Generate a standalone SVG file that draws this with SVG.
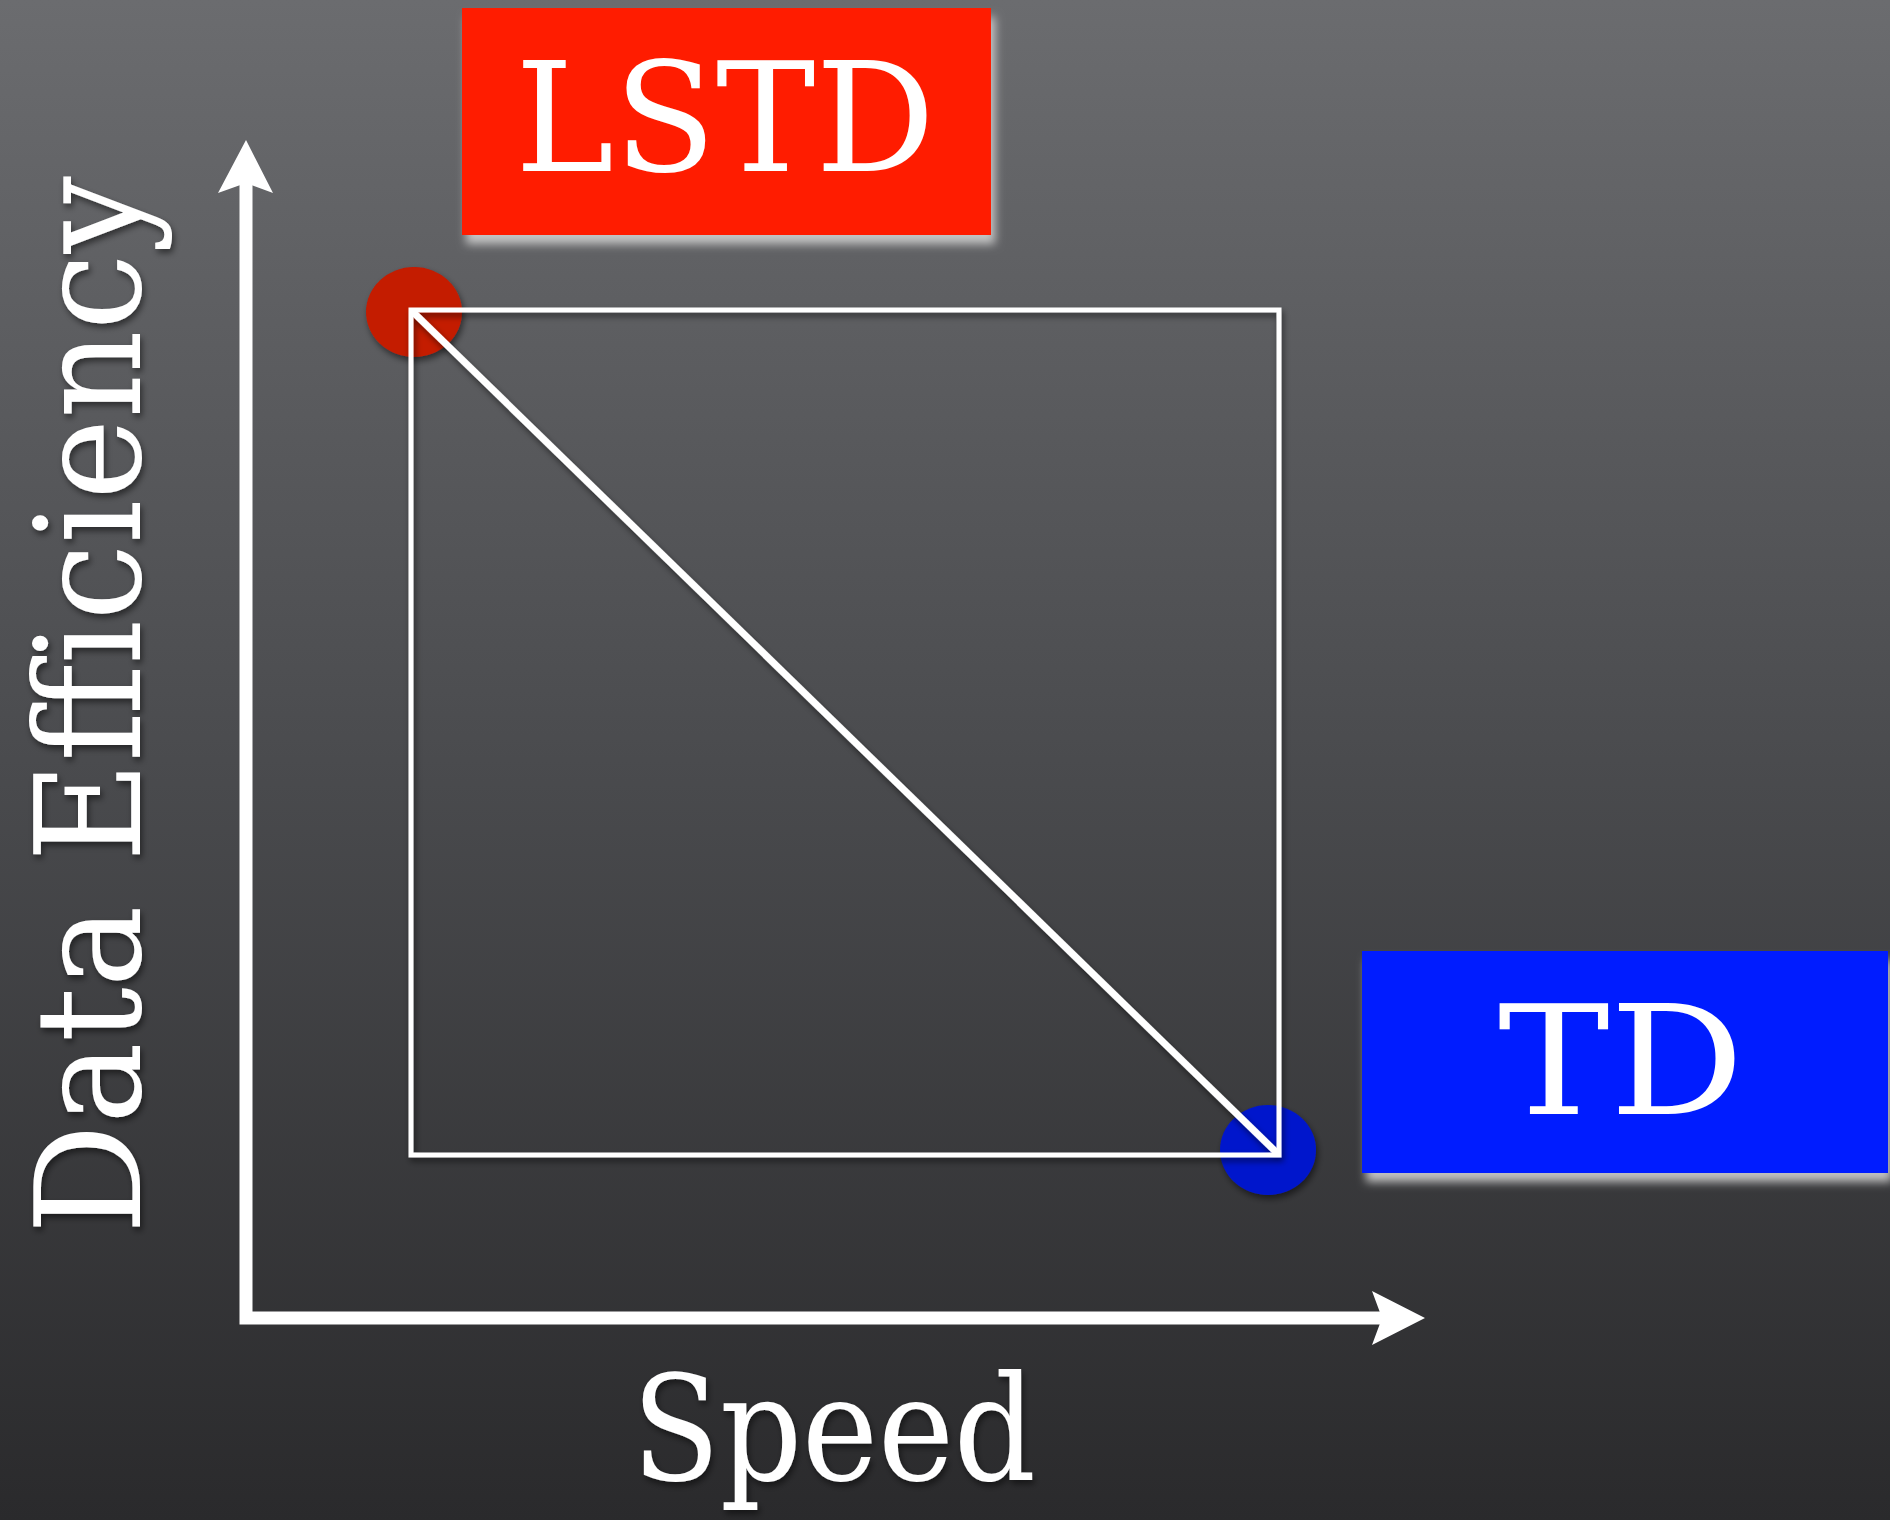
<svg xmlns="http://www.w3.org/2000/svg" width="1890" height="1520" viewBox="0 0 1890 1520">
<defs>
  <linearGradient id="bg" x1="0" y1="0" x2="0" y2="1">
    <stop offset="0" stop-color="#6b6c6f"/>
    <stop offset="0.5" stop-color="#4a4b4e"/>
    <stop offset="1" stop-color="#2a2a2c"/>
  </linearGradient>
  <filter id="boxShadow" x="-10%" y="-10%" width="130%" height="140%">
    <feGaussianBlur in="SourceAlpha" stdDeviation="5" result="b"/>
    <feOffset in="b" dx="4" dy="9" result="o"/>
    <feFlood flood-color="#d0d0d0" flood-opacity="0.9"/>
    <feComposite in2="o" operator="in" result="s"/>
    <feMerge><feMergeNode in="s"/><feMergeNode in="SourceGraphic"/></feMerge>
  </filter>
  <filter id="soft" x="-20%" y="-20%" width="140%" height="140%">
    <feGaussianBlur in="SourceAlpha" stdDeviation="3" result="b"/>
    <feOffset in="b" dx="2" dy="4" result="o"/>
    <feFlood flood-color="#000" flood-opacity="0.5"/>
    <feComposite in2="o" operator="in" result="s"/>
    <feMerge><feMergeNode in="s"/><feMergeNode in="SourceGraphic"/></feMerge>
  </filter>
  <style>
    .lbl { font-family: "DejaVu Serif", "Liberation Serif", serif; fill: #ffffff; }
    .ax { fill: none; stroke: #ffffff; stroke-width: 13; }
    .head { fill: #ffffff; }
    .frame { fill: none; stroke: #ffffff; stroke-width: 5; }
  </style>
</defs>

<rect x="0" y="0" width="1890" height="1520" fill="url(#bg)"/>

<g id="dot-lstd" filter="url(#soft)">
  <ellipse cx="414" cy="312" rx="48" ry="45" fill="#c41b06"/>
</g>
<g id="dot-td" filter="url(#soft)">
  <ellipse cx="1268" cy="1150" rx="48" ry="45" fill="#0617cc"/>
</g>

<g id="connectors" filter="url(#soft)">
  <rect class="frame" x="411" y="310" width="868" height="845"/>
  <line x1="413" y1="312" x2="1277" y2="1153" stroke="#ffffff" stroke-width="7"/>
</g>

<g id="axes">
  <polyline class="ax" points="246,183 246,1318 1382,1318"/>
  <polygon class="head" points="246,140 273,193 246,183 218,193"/>
  <polygon class="head" points="1425,1318 1372,1345 1382,1318 1372,1291"/>
</g>

<g id="node-lstd">
  <rect x="462" y="8" width="529" height="227" fill="#ff1c00" filter="url(#boxShadow)"/>
  <text class="lbl" x="725" y="171" font-size="152" text-anchor="middle" textLength="420" lengthAdjust="spacingAndGlyphs">LSTD</text>
</g>

<g id="node-td">
  <rect x="1362" y="951" width="526" height="222" fill="#001cff" filter="url(#boxShadow)"/>
  <text class="lbl" x="1621" y="1114" font-size="152" text-anchor="middle" textLength="246" lengthAdjust="spacingAndGlyphs">TD</text>
</g>

<g id="label-speed" filter="url(#soft)">
  <text class="lbl" x="834" y="1480" font-size="146" text-anchor="middle" textLength="404" lengthAdjust="spacingAndGlyphs">Speed</text>
</g>

<g id="label-data-efficiency" filter="url(#soft)">
  <text class="lbl" transform="translate(140,705) rotate(-90)" x="0" y="0" font-size="146" text-anchor="middle" textLength="1058" lengthAdjust="spacingAndGlyphs">Data Efficiency</text>
</g>
</svg>
